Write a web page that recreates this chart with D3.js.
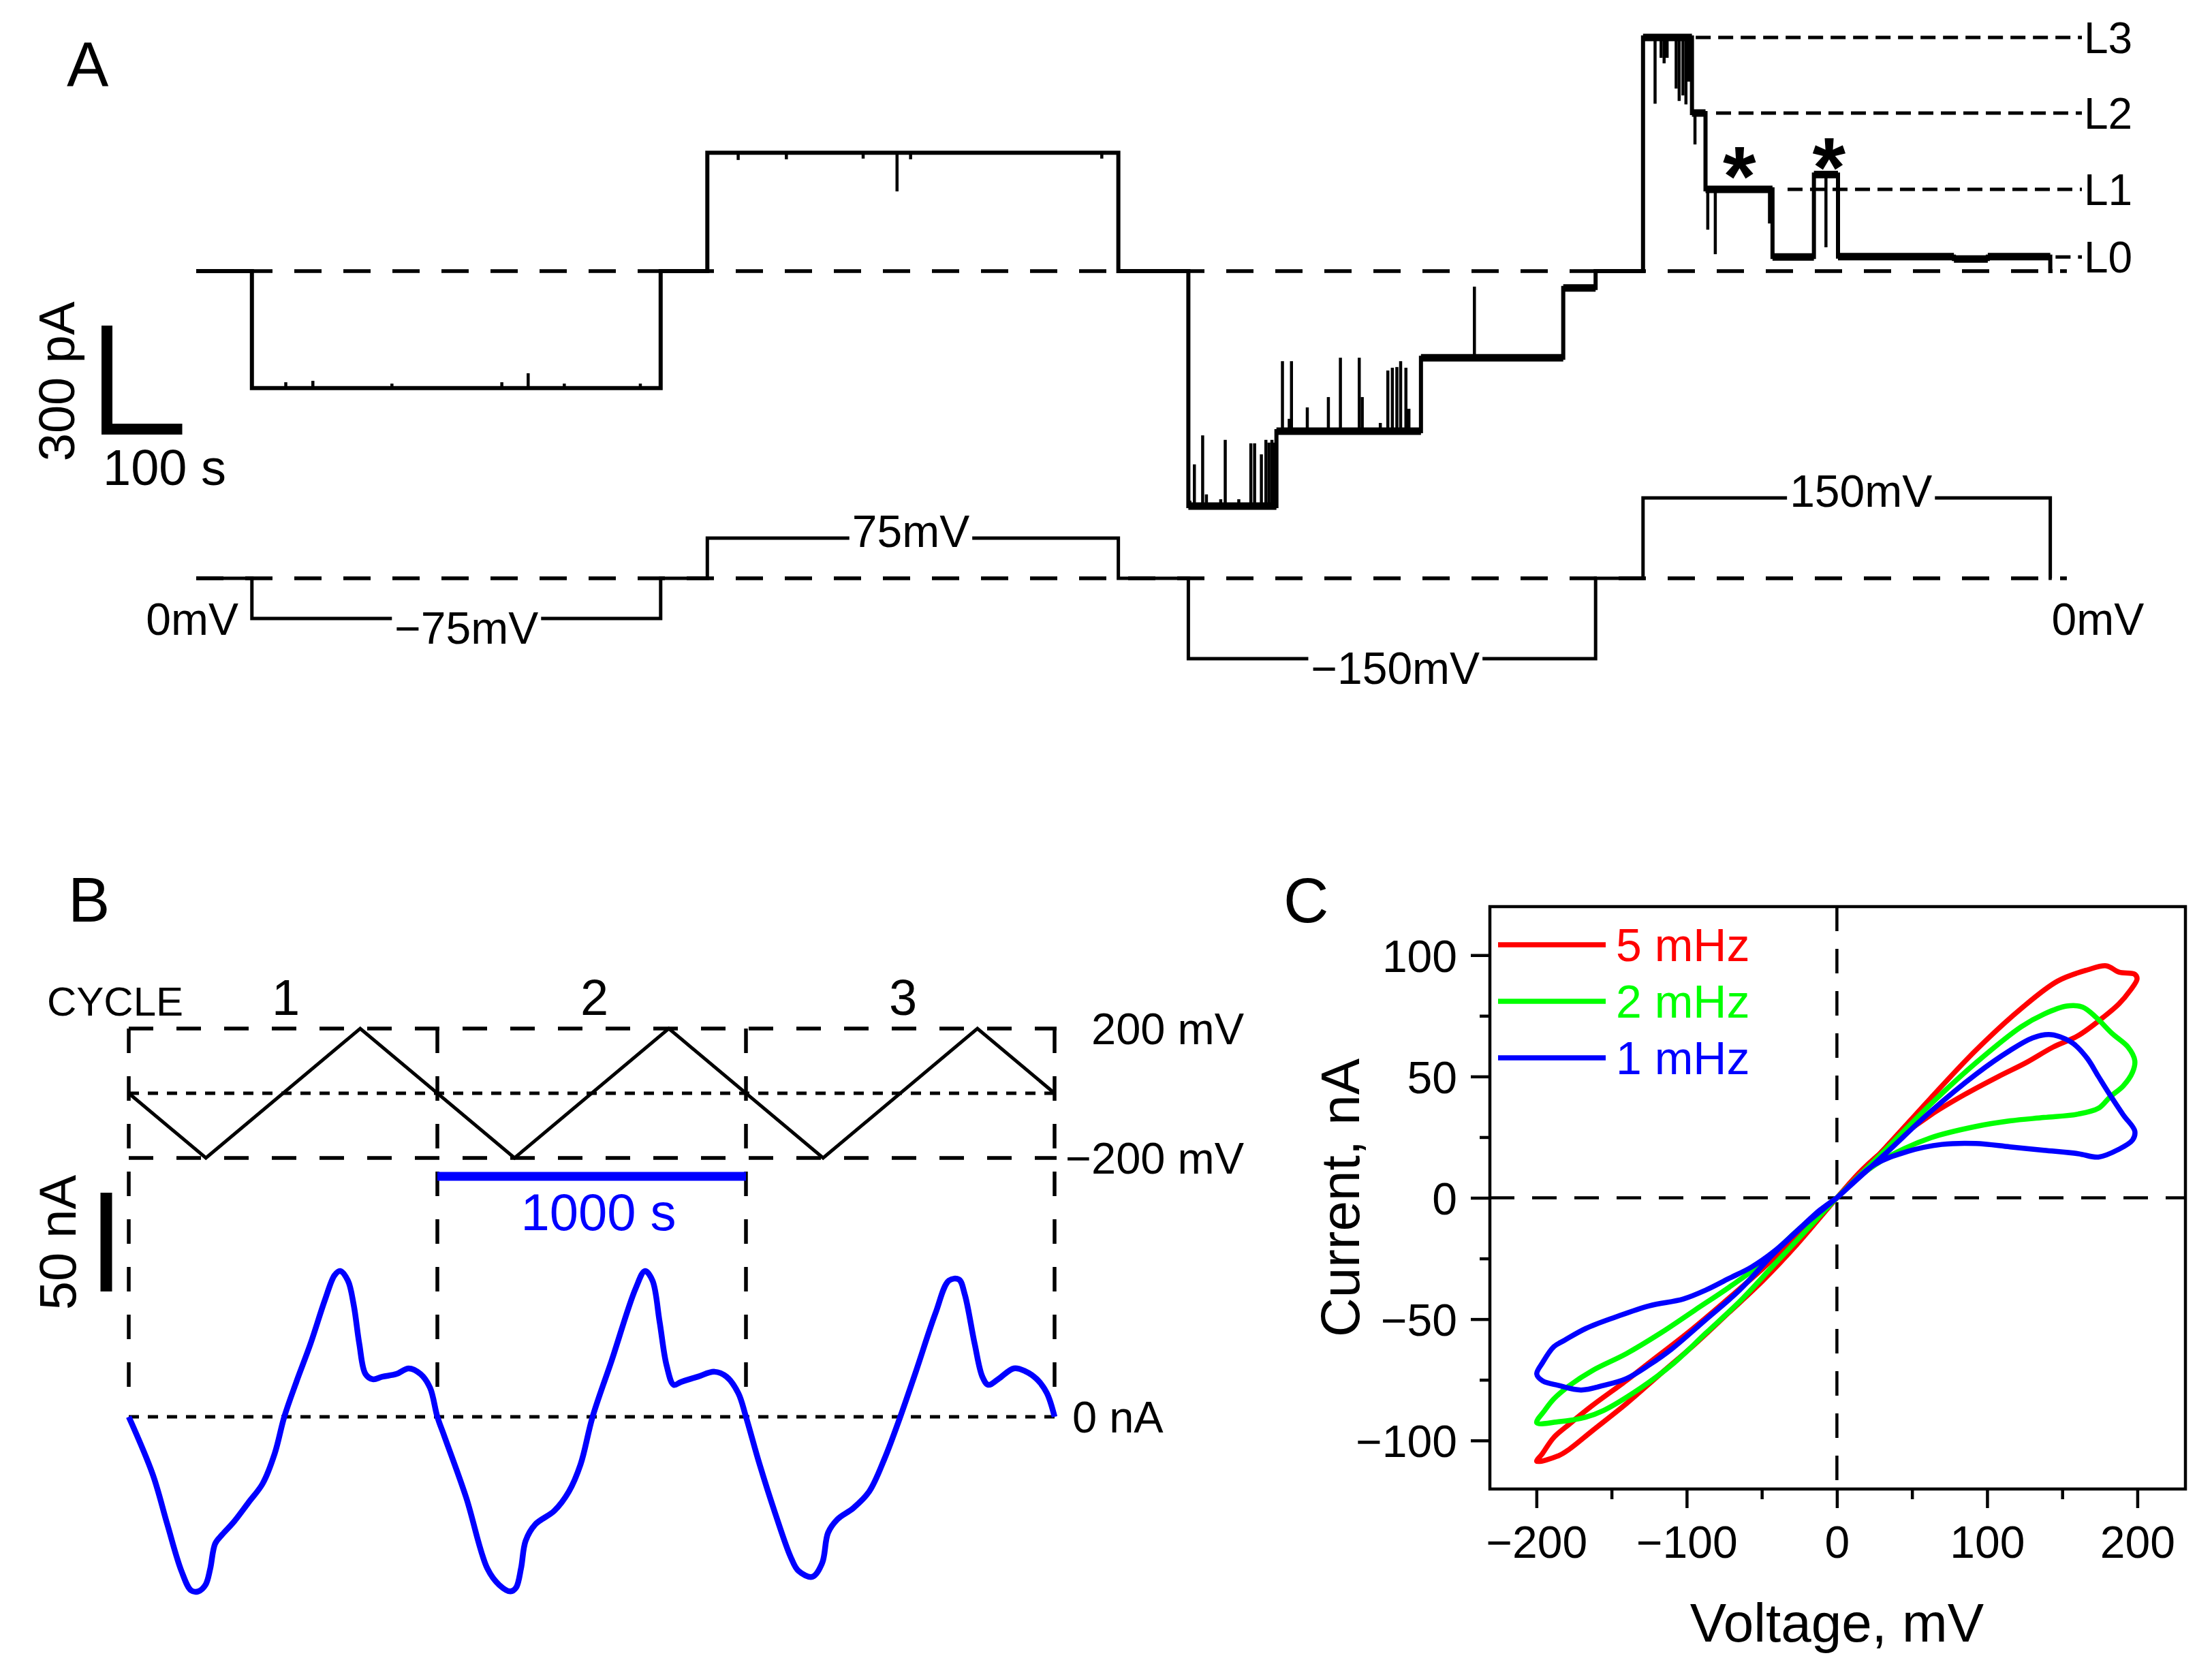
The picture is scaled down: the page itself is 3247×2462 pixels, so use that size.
<!DOCTYPE html>
<html><head><meta charset="utf-8">
<script src="https://cdnjs.cloudflare.com/ajax/libs/d3/7.8.5/d3.min.js"></script>
<style>
html,body{margin:0;padding:0;background:#fff;}
svg{display:block;}
text{font-family:"Liberation Sans",Arial,Helvetica,sans-serif;}
</style></head><body>
<svg id="fig" width="3247" height="2462"></svg>
<script>
// ================= DATA =================
// ---- Panel A: single-channel current steps (t in s, current in pA) ----
const aCurrentSeg = [
  [0,74,0],[74,617,-339],[617,679,0],[679,1225,343],[1225,1318,0],
  [1318,1435,-681],[1435,1627,-464],[1627,1816,-251],[1816,1859,-49],[1859,1922,0],
  [1922,1987,677],[1987,2005,458],[2005,2094,237],[2094,2149,41],[2149,2181,280],
  [2181,2335,42],[2335,2380,35],[2380,2463,42],[2463,2466,0]
];
// transient spikes [t, pA]
const aSpikes = [
  [119,-322],[155,-318],[260,-326],[406,-322],[441,-296],[489,-326],[590,-326],
  [720,322],[784,324],[886,326],[931,231],[949,324],[1203,326],
  [1320,-665],[1326,-560],[1337,-476],[1342,-647],[1361,-661],[1367,-489],[1385,-661],
  [1401,-499],[1406,-499],[1415,-531],[1421,-489],[1425,-497],[1429,-489],[1432,-497],
  [1443,-261],[1452,-428],[1455,-261],[1476,-395],[1504,-365],[1520,-251],[1545,-251],
  [1549,-365],[1573,-440],[1583,-288],[1589,-280],[1595,-278],[1600,-261],[1607,-280],[1611,-399],
  [1698,-45],
  [1938,485],[1946,618],[1950,602],[1954,618],[1966,529],[1970,493],[1975,509],[1979,483],[1983,549],
  [1991,367],[2008,120],[2018,49],[2090,138],[2165,69]
];
const aNoisyRanges = [[1318,1859],[1922,2463]];
// voltage protocol [t0, t1, mV]
const aVoltageSeg = [
  [0,74,0],[74,617,-75],[617,679,0],[679,1225,75],[1225,1318,0],
  [1318,1859,-150],[1859,1922,0],[1922,2463,150],[2463,2465,0]
];
const aVoltLabels = ["−75mV","75mV","−150mV","150mV"];
const aZeroLabel = "0mV";
const aLevelNames = ["L3","L2","L1","L0"];
const aLevelValues = [677,458,237,41];
const aLevelStart = [1992,2019,2114,2470];
const aStars = [[2050,331],[2169,357]];

// ---- Panel B: triangular voltage and current (t in s) ----
const bTriangle = [[0,0],[250,-200],[750,200],[1250,-200],[1750,200],[2250,-200],[2750,200],[3000,0]];
const bCurrent = [
  [0,0],[78,-29.3],[125,-54.5],[171,-78.2],[202,-87.9],[225,-88.4],[249,-85],[264,-76.9],[280,-64.2],
  [303,-59.6],[341,-53.1],[388,-43.4],[434,-33.8],[473,-18.6],[504,0],[543,17.6],[589,37],[636,59.3],
  [667,71.7],[685,73.8],[710,69],[729,56.6],[747,37],[767,21.7],[791,19],[822,20.3],[868,21.7],
  [907,24.5],[945,21.7],[976,14.8],[1000,0],
  [1023,-10],[1093,-40.7],[1162,-76.8],[1201,-85.2],[1237,-88.4],[1255,-86.5],[1271,-76.8],[1286,-62.8],
  [1317,-54.5],[1379,-47.6],[1426,-37.9],[1464,-24.1],[1503,0],[1565,28.6],[1642,64.8],[1673,73.8],
  [1697,69],[1720,48.3],[1743,25.9],[1766,16.2],[1789,17.6],[1844,20.3],[1898,22.8],[1937,20.3],
  [1975,12],[2000,0],
  [2044,-24],[2095,-49],[2145,-71],[2170,-78],[2215,-81],[2247,-74],[2266,-58.7],[2297,-51.8],
  [2348,-46.2],[2399,-37.9],[2449,-21.2],[2500,0],[2551,23.1],[2614,52.4],[2658,69],[2690,69.5],
  [2709,62],[2741,37],[2766,20.3],[2785,16.2],[2817,19],[2868,24.5],[2905,23.1],[2943,19],[2975,12],[3000,0]
];
const bCycles = ["1","2","3"];

// ---- Panel C: I-V loops [mV, nA] ----
const cSeries = ["5 mHz","2 mHz","1 mHz"];
const cLoop5 = [
  [0,0],[32,20.5],[62.3,41],[92.5,60.8],[122.7,78],[146.9,89.3],[166.6,93.9],[179.4,95.6],[187.7,93],
  [198.3,92.1],[199.8,90.2],[195.3,85.5],[187.7,79.9],[177.1,74.3],[160.5,66.8],[143.9,62.1],[125.7,55.6],
  [107.6,50],[84.9,42.5],[62.3,34.1],[39.6,23.8],[16.9,11.6],[0,0],
  [-26.7,-19.3],[-49.4,-34.2],[-72.1,-47.4],[-94.8,-60.5],[-117.5,-72.6],[-140.1,-84.8],[-162.8,-96],
  [-177.9,-103.5],[-185.4,-106.3],[-199.8,-108.6],[-196,-105.4],[-188.5,-98.8],[-178,-93.2],[-163,-85.7],
  [-140.3,-75.4],[-125,-68],[-100,-56],[-75,-43],[-50,-29.5],[-25,-15],[0,0]
];
const cLoop2 = [
  [0,0],[32,19.6],[62.3,38.5],[92.5,55.6],[122.7,70.5],[137.8,75.7],[152.9,79],[163.5,78.6],[172.6,74.3],
  [183.2,67.7],[193.8,62.1],[198.3,56.5],[196.8,51.8],[190.7,46.2],[181.7,41.5],[174.1,36.9],[160.5,34.5],
  [137.8,33.1],[115.2,31.7],[92.5,29.4],[62.3,24.7],[35.1,17.2],[16.9,9.7],[0,0],
  [-19.3,-12.7],[-42,-27.7],[-64.7,-42.7],[-87.3,-55.8],[-110,-68.9],[-132.6,-79.2],[-155.2,-87.6],
  [-167.3,-90.4],[-185.4,-92.3],[-199.8,-92.7],[-194.5,-87.6],[-188.5,-82.9],[-177.9,-77.3],[-162.8,-71.2],
  [-140.1,-64.2],[-117.5,-55.8],[-94.8,-46.4],[-72.1,-37],[-49.4,-26.8],[-26.7,-13.7],[0,0]
];
const cLoop1 = [
  [0,0],[32,18],[62.3,35.5],[92.5,50.9],[115.2,60.7],[130.3,65.9],[140.9,67.3],[148.4,66.4],[157.5,63.5],
  [166.6,57.5],[174.1,50],[181.7,42.5],[190.7,34.1],[198.3,27.5],[196.8,23.8],[187.7,20],[174.1,16.8],
  [160.5,18.2],[137.8,19.6],[115.2,21],[92.5,22.4],[69.8,22],[47.1,19.1],[24.5,13.5],[0,0],
  [-19.3,-9.9],[-42,-23],[-64.7,-38],[-87.3,-50.2],[-110,-62.3],[-125,-68.9],[-140.1,-74.5],[-155.2,-77.3],
  [-170.3,-79.2],[-185.4,-77.3],[-196,-75.4],[-199.8,-72.6],[-196,-68],[-188.5,-61.4],[-181,-58.6],
  [-167.3,-53.9],[-147.6,-49.2],[-124.9,-44.5],[-102.3,-41.7],[-87.2,-38],[-72.1,-33.3],[-57,-28.6],
  [-41.9,-22.1],[-26.7,-13.7],[-11.6,-5.2],[0,0]
];
const cXTicks = [-200,-100,0,100,200];
const cXMinor = [-150,-50,50,150];
const cYTicks = [-100,-50,0,50,100];
const cYMinor = [-75,-25,25,75];

// ================= DRAWING =================
const W=3247,H=2462;
const svg=d3.select("#fig").attr("viewBox",`0 0 ${W} ${H}`);
svg.append("rect").attr("width",W).attr("height",H).attr("fill","#fff");
const FONT='"Liberation Sans",Arial,Helvetica,sans-serif';
const minus = d => d<0 ? "−"+Math.abs(d) : String(d);

// ---------- Panel A ----------
const xA=d3.scaleLinear().domain([0,2485]).range([288,288+2485*1.105]);
const yA=d3.scaleLinear().domain([0,300]).range([398,246]);
const yAV=d3.scaleLinear().domain([0,150]).range([849,731]);
const gA=svg.append("g");
gA.append("text").attr("x",98).attr("y",127).attr("font-size",92).text("A");

// baselines
gA.append("line").attr("x1",xA(0)).attr("x2",xA(2485)).attr("y1",yA(0)).attr("y2",yA(0))
  .attr("stroke","#000").attr("stroke-width",5.5).attr("stroke-dasharray","40,32");
gA.append("line").attr("x1",xA(0)).attr("x2",xA(2485)).attr("y1",yAV(0)).attr("y2",yAV(0))
  .attr("stroke","#000").attr("stroke-width",5.5).attr("stroke-dasharray","40,32");

// level lines
const levelEnd = 2505;
aLevelNames.forEach((n,i)=>{
  gA.append("line").attr("x1",xA(aLevelStart[i])).attr("x2",xA(levelEnd))
    .attr("y1",yA(aLevelValues[i])).attr("y2",yA(aLevelValues[i]))
    .attr("stroke","#000").attr("stroke-width",5).attr("stroke-dasharray","22,11");
  gA.append("text").attr("x",xA(levelEnd)+3).attr("y",yA(aLevelValues[i])).attr("dy","0.36em")
    .attr("font-size",64).text(n);
});

const stepPts = segs => { const p=[]; segs.forEach(s=>{p.push([s[0],s[2]]);p.push([s[1],s[2]]);}); return p; };
const lineA = d3.line().x(d=>xA(d[0])).y(d=>yA(d[1]));
gA.append("path").datum(stepPts(aCurrentSeg)).attr("d",lineA)
  .attr("fill","none").attr("stroke","#000").attr("stroke-width",6).attr("stroke-linejoin","miter");
// noisy bands
aCurrentSeg.filter(s=>aNoisyRanges.some(r=>s[0]>=r[0]&&s[1]<=r[1])).forEach(s=>{
  gA.append("line").attr("x1",xA(s[0])).attr("x2",xA(s[1])).attr("y1",yA(s[2])).attr("y2",yA(s[2]))
    .attr("stroke","#000").attr("stroke-width",11);
});
const levelAt = t => { const s=aCurrentSeg.find(s=>t>=s[0]&&t<=s[1]); return s?s[2]:0; };
gA.selectAll("line.spk").data(aSpikes).join("line").attr("class","spk")
  .attr("x1",d=>xA(d[0])).attr("x2",d=>xA(d[0]))
  .attr("y1",d=>yA(levelAt(d[0]))).attr("y2",d=>yA(d[1]))
  .attr("stroke","#000").attr("stroke-width",4.5);

// stars
aStars.forEach(s=>{
  gA.append("text").attr("x",xA(s[0])).attr("y",yA(s[1])+72).attr("text-anchor","middle")
    .attr("font-size",125).attr("font-weight","bold").text("*");
});

// voltage trace
const lineAV = d3.line().x(d=>xA(d[0])).y(d=>yAV(d[1]));
gA.append("path").datum(stepPts(aVoltageSeg)).attr("d",lineAV)
  .attr("fill","none").attr("stroke","#000").attr("stroke-width",5).attr("stroke-linejoin","miter");
const nudges=[15,-3,5,21];
aVoltageSeg.filter(s=>s[2]!==0).forEach((s,i)=>{
  const cx=xA((s[0]+s[1])/2)+nudges[i];
  const cy=yAV(s[2])+(s[2]<0?13:-11);
  const t=gA.append("text").attr("x",cx).attr("y",cy).attr("dy","0.36em").attr("text-anchor","middle")
    .attr("font-size",66).text(aVoltLabels[i]);
  const bb=t.node().getBBox();
  gA.insert("rect",()=>t.node()).attr("x",bb.x-4).attr("y",bb.y).attr("width",bb.width+8).attr("height",bb.height).attr("fill","#fff");
});
gA.append("text").attr("x",xA(0)+62).attr("y",yAV(-75)).attr("dy","0.36em").attr("text-anchor","end")
  .attr("font-size",66).text(aZeroLabel);
gA.append("text").attr("x",xA(2463)+2).attr("y",yAV(-75)).attr("dy","0.36em")
  .attr("font-size",66).text(aZeroLabel);

// scale bar
const sbx=157, sby=630;
gA.append("path").attr("d",`M${sbx},${sby-(yA(0)-yA(300))}L${sbx},${sby}L${sbx+(xA(100)-xA(0))},${sby}`)
  .attr("fill","none").attr("stroke","#000").attr("stroke-width",16).attr("stroke-linejoin","miter");
gA.append("text").attr("transform","translate(109,560) rotate(-90)").attr("text-anchor","middle")
  .attr("font-size",74).text("300 pA");
gA.append("text").attr("x",151).attr("y",712).attr("font-size",74).text("100 s");

// ---------- Panel B ----------
const xB=d3.scaleLinear().domain([0,3000]).range([189,1548]);
const yBV=d3.scaleLinear().domain([-200,200]).range([1700,1510]);
const yBI=d3.scaleLinear().domain([0,50]).range([2080,1935]);
const gB=svg.append("g");
gB.append("text").attr("x",100).attr("y",1353).attr("font-size",92).text("B");
gB.append("text").attr("x",69).attr("y",1491).attr("font-size",60).text("CYCLE");
bCycles.forEach((c,i)=>{
  gB.append("text").attr("x",xB(i*1000+500)+4).attr("y",1490).attr("text-anchor","middle").attr("font-size",74).text(c);
});
[200,-200].forEach(v=>{
  gB.append("line").attr("x1",xB(0)).attr("x2",xB(3000)+3).attr("y1",yBV(v)).attr("y2",yBV(v))
    .attr("stroke","#000").attr("stroke-width",5.5).attr("stroke-dasharray","36,34");
});
gB.append("line").attr("x1",xB(0)).attr("x2",xB(3000)+3).attr("y1",yBV(0)).attr("y2",yBV(0))
  .attr("stroke","#000").attr("stroke-width",5).attr("stroke-dasharray","15,13");
[0,1000,2000,3000].forEach(t=>{
  gB.append("line").attr("x1",xB(t)).attr("x2",xB(t)).attr("y1",yBV(200)).attr("y2",yBI(0)-35)
    .attr("stroke","#000").attr("stroke-width",5.5).attr("stroke-dasharray","36,34");
});
gB.append("line").attr("x1",xB(0)).attr("x2",xB(3000)+3).attr("y1",yBI(0)).attr("y2",yBI(0))
  .attr("stroke","#000").attr("stroke-width",5).attr("stroke-dasharray","15,13");
gB.append("path").datum(bTriangle).attr("d",d3.line().x(d=>xB(d[0])).y(d=>yBV(d[1])))
  .attr("fill","none").attr("stroke","#000").attr("stroke-width",5);
gB.append("path").datum(bCurrent).attr("d",d3.line().curve(d3.curveCatmullRom.alpha(0.5)).x(d=>xB(d[0])).y(d=>yBI(d[1])))
  .attr("fill","none").attr("stroke","#0000ff").attr("stroke-width",8.5).attr("stroke-linejoin","round");
gB.append("text").attr("x",1826).attr("y",yBV(200)).attr("dy","0.36em").attr("text-anchor","end").attr("font-size",65).text("200 mV");
gB.append("text").attr("x",1826).attr("y",yBV(-200)).attr("dy","0.36em").attr("text-anchor","end").attr("font-size",65).text("−200 mV");
gB.append("text").attr("x",1574).attr("y",yBI(0)).attr("dy","0.36em").attr("font-size",65).text("0 nA");
gB.append("line").attr("x1",xB(1000)).attr("x2",xB(2000)).attr("y1",1727).attr("y2",1727)
  .attr("stroke","#0000ff").attr("stroke-width",13);
gB.append("text").attr("x",xB(1500)+10).attr("y",1806).attr("text-anchor","middle").attr("font-size",76)
  .attr("fill","#0000ff").text("1000 s");
gB.append("line").attr("x1",156).attr("x2",156).attr("y1",1896).attr("y2",1896-(yBI(0)-yBI(50)))
  .attr("stroke","#000").attr("stroke-width",17);
gB.append("text").attr("transform","translate(111,1824) rotate(-90)").attr("text-anchor","middle")
  .attr("font-size",76).text("50 nA");

// ---------- Panel C ----------
const xC=d3.scaleLinear().domain([-231,232]).range([2187,3208]);
const yC=d3.scaleLinear().domain([-120,120]).range([2186,1331]);
const gC=svg.append("g");
gC.append("text").attr("x",1884).attr("y",1354).attr("font-size",92).text("C");
// zero lines
gC.append("line").attr("x1",xC(-231)).attr("x2",xC(232)).attr("y1",yC(0)).attr("y2",yC(0))
  .attr("stroke","#000").attr("stroke-width",4.5).attr("stroke-dasharray","36,26");
gC.append("line").attr("x1",xC(0)).attr("x2",xC(0)).attr("y1",yC(120)).attr("y2",yC(-120))
  .attr("stroke","#000").attr("stroke-width",4.5).attr("stroke-dasharray","36,26");
// axes
const axB=gC.append("g").attr("transform",`translate(0,${yC(-120)})`)
  .call(d3.axisBottom(xC).tickValues(cXTicks).tickSize(28).tickPadding(26).tickFormat(minus));
const axBm=gC.append("g").attr("transform",`translate(0,${yC(-120)})`)
  .call(d3.axisBottom(xC).tickValues(cXMinor).tickSize(15).tickFormat(""));
const axL=gC.append("g").attr("transform",`translate(${xC(-231)},0)`)
  .call(d3.axisLeft(yC).tickValues(cYTicks).tickSize(28).tickPadding(20).tickFormat(minus));
const axLm=gC.append("g").attr("transform",`translate(${xC(-231)},0)`)
  .call(d3.axisLeft(yC).tickValues(cYMinor).tickSize(15).tickFormat(""));
[axB,axBm,axL,axLm].forEach(a=>{
  a.select(".domain").remove();
  a.selectAll("line").attr("stroke","#000").attr("stroke-width",4.5);
  a.selectAll("text").attr("font-size",66).attr("font-family",FONT).attr("fill","#000");
});
axL.selectAll("text").attr("dy","0.36em");
// loops
const lineC=d3.line().curve(d3.curveCatmullRom.alpha(0.5)).x(d=>xC(d[0])).y(d=>yC(d[1]));
const cColors=["#ff0000","#00ff00","#0000ff"];
[cLoop5,cLoop2,cLoop1].forEach((L,i)=>{
  gC.append("path").datum(L).attr("d",lineC).attr("fill","none").attr("stroke",cColors[i])
    .attr("stroke-width",7.5).attr("stroke-linejoin","round");
});
// frame
gC.append("rect").attr("x",xC(-231)).attr("y",yC(120)).attr("width",xC(232)-xC(-231)).attr("height",yC(-120)-yC(120))
  .attr("fill","none").attr("stroke","#000").attr("stroke-width",4.5);
// legend
cSeries.forEach((s,i)=>{
  const y=1387+i*83;
  gC.append("line").attr("x1",2199).attr("x2",2357).attr("y1",y).attr("y2",y).attr("stroke",cColors[i]).attr("stroke-width",7.5);
  gC.append("text").attr("x",2372).attr("y",y).attr("dy","0.36em").attr("font-size",68).attr("fill",cColors[i]).text(s);
});
gC.append("text").attr("x",xC(0)).attr("y",2410).attr("text-anchor","middle").attr("font-size",80).text("Voltage, mV");
gC.append("text").attr("transform",`translate(1995,${yC(0)}) rotate(-90)`).attr("text-anchor","middle")
  .attr("font-size",80).text("Current, nA");
</script>
</body></html>
